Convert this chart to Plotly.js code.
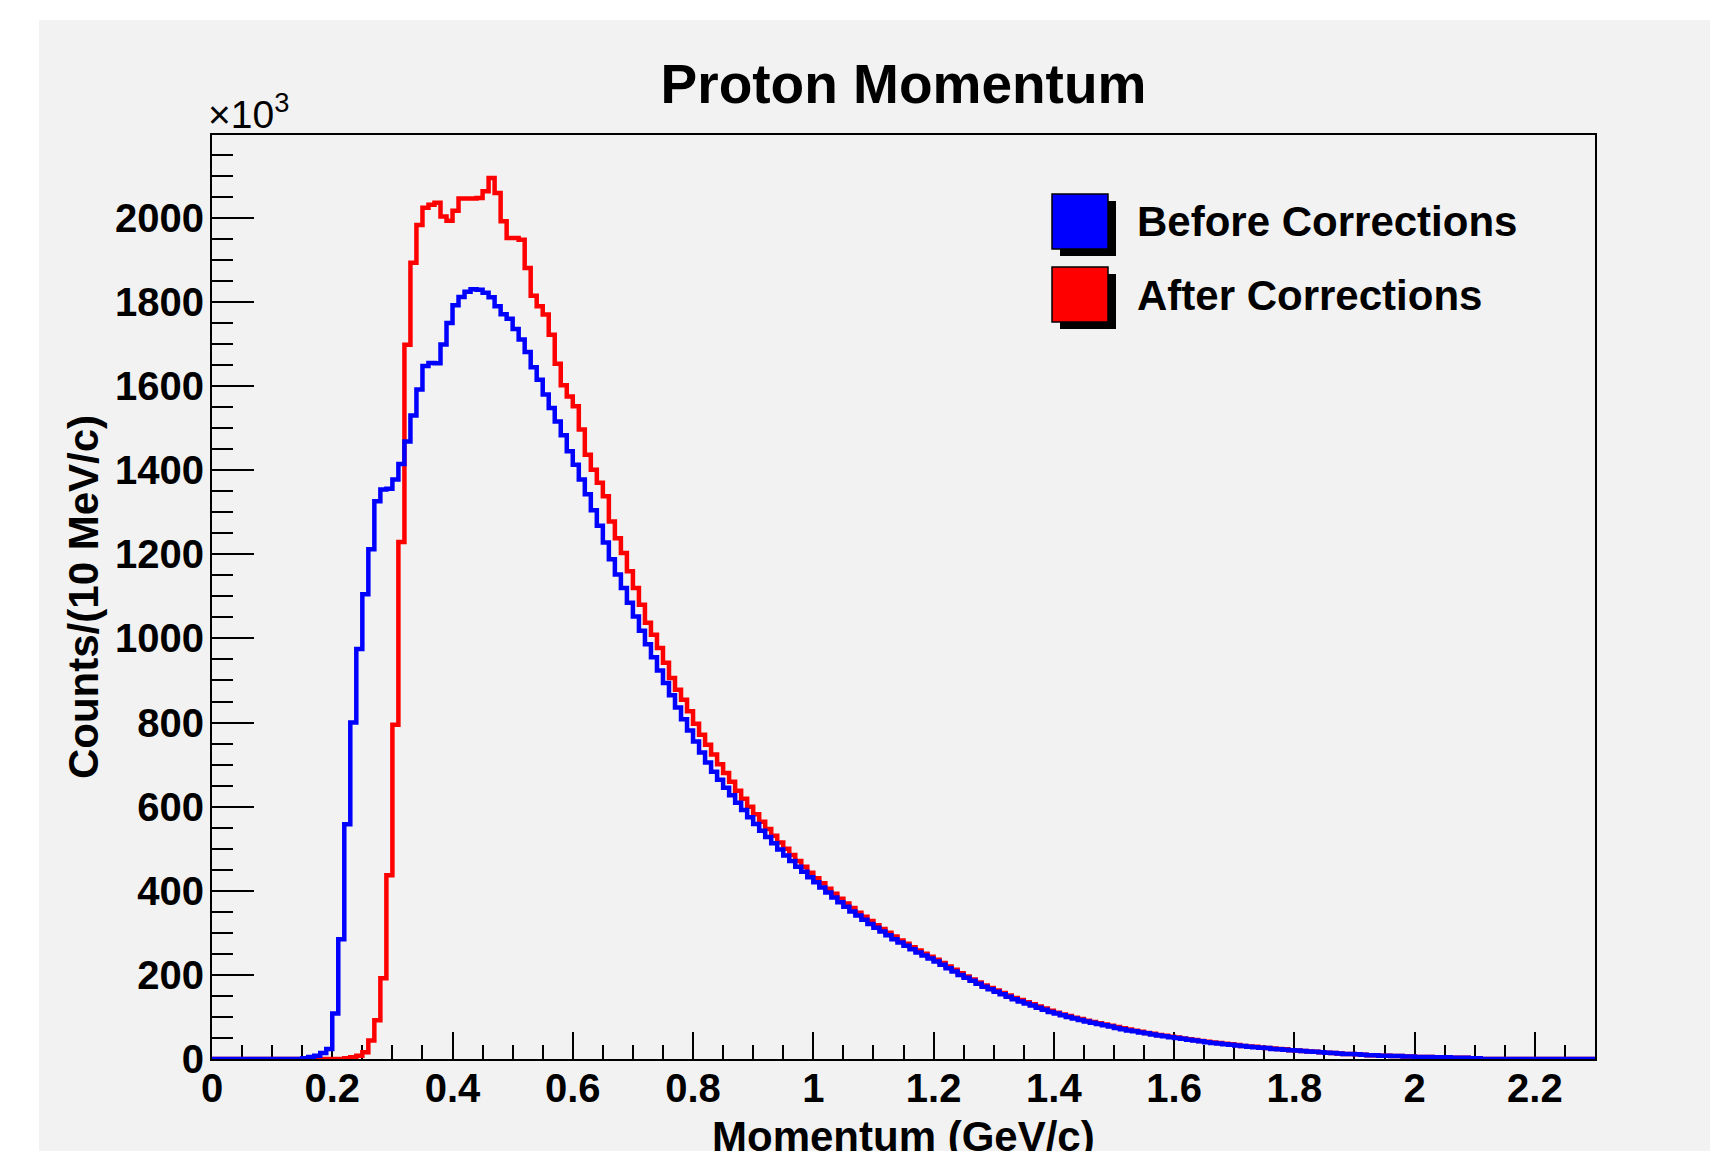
<!DOCTYPE html>
<html>
<head>
<meta charset="utf-8">
<script src="https://cdn.plot.ly/plotly-3.0.1.min.js"></script>
<style>
html,body{margin:0;padding:0;background:#ffffff;}
#chart{width:1710px;height:1151px;}
</style>
</head>
<body>
<div id="chart"></div>
<script>
// ---------------- data ----------------
const chartTitle = 'Proton Momentum';
const xAxisTitle = 'Momentum (GeV/c)';
const yAxisTitle = 'Counts/(10 MeV/c)';
const yScaleLabel = '\u00d710<sup>3</sup>';
const seriesNames = ['Before Corrections', 'After Corrections'];
const seriesColors = ['#0000ff', '#ff0000'];

// histogram binning (GeV/c)
const binLowEdge = 0;
const binWidth = 0.01;
const xMax = 2.3;

// counts per 10 MeV/c bin, in thousands (bins 0.00 .. 2.29)
const beforeCounts = [
  0,0,0,0,0,0,0,0,0,0,0,0,0,0,0,
  2,5,8,14,24,
  108,285,558,800,975,1105,1212,1326,1354,1356,
  1378,1415,1468,1530,1592,1648,1655,1654,1699,1750,
  1792,1812,1824,1830,1829,1822,1811,1790,1771,1760,
  1736,1711,1681,1645,1615,1580,1548,1516,1483,1445,
  1413,1378,1343,1305,1268,1228,1188,1152,1120,1085,
  1052,1018,986,955,924,894,865,836,808,781,
  755,729,705,683,664,645,627,609,592,575,
  559,543,528,513,498,484,471,457,445,432,
  420,
  408,396,384,373,362,351,341,331,321,312,303,294,285,277,269,261,253,246,239,232,
  224,216,208,200,193,186,179,172,166,160,154,148,142,137,132,127,122,117,112,108,
  104,100,96,93,89,86,83,80,77,74,71,68,66,63,61,58,56,54,52,50,
  48,46,44,42,40,38,37,35,34,32,31,29,28,27,26,24,23,22,21,20,
  19,18,17,16,15,14,13,12,12,11,10,9,9,8,8,7,7,6,6,5,
  5,5,4,4,4,3,3,3,2,2,
  0,0,0,0,0,0,0,0,0,0,0,0,0,0,0,0,0,0,0
];
const afterCounts = [
  0,0,0,0,0,0,0,0,0,0,0,0,0,0,0,0,0,0,0,0,0,0,
  2,4,8,16,44,92,192,437,
  795,1229,1698,1893,1983,2024,2031,2036,2003,1993,
  2017,2046,2046,2046,2047,2063,2095,2059,1992,1952,
  1952,1948,1881,1815,1790,1770,1722,1653,1602,1575,
  1552,1497,1437,1401,1370,1338,1278,1238,1203,1160,
  1120,1080,1037,1009,977,942,906,878,854,827,
  797,771,747,724,701,680,659,638,619,600,
  582,564,547,531,515,500,485,471,457,443,
  430,
  418,405,393,381,370,359,348,338,328,318,309,300,291,282,274,266,258,250,243,236,
  228,220,212,204,196,189,182,175,169,163,157,151,145,140,135,130,125,120,115,110,
  106,102,98,95,91,88,85,82,79,76,73,70,67,65,62,60,57,55,53,51,
  49,47,45,43,41,39,38,36,35,33,31,30,29,27,26,25,24,23,21,20,
  19,18,17,16,15,14,13,12,12,11,10,9,9,8,8,7,7,6,6,5,
  5,5,4,4,4,3,3,3,1,1,
  0,0,0,0,0,0,0,0,0,0,0,0,0,0,0,0,0,0,0
];

// ---------------- helpers ----------------
function stepTrace(counts, name, color) {
  const x = counts.map((_, i) => +(binLowEdge + i * binWidth).toFixed(4));
  x.push(binLowEdge + counts.length * binWidth);
  const y = counts.slice();
  y.push(counts[counts.length - 1]);
  return {
    type: 'scatter', mode: 'lines', name: name, x: x, y: y,
    line: {shape: 'hv', color: color, width: 4.5},
    showlegend: false, hoverinfo: 'x+y'
  };
}

const FONT = 'Liberation Sans, Arial, Helvetica, sans-serif';
const W = 1710, H = 1151;
const L = 212, R = 1595, T = 135, B = 1059;
const pw = R - L, ph = B - T;
const px = v => (v - L) / pw;
const py = v => (B - v) / ph;

const traces = [
  stepTrace(afterCounts, seriesNames[1], seriesColors[1]),
  stepTrace(beforeCounts, seriesNames[0], seriesColors[0])
];

// legend (ROOT-style boxes with shadow)
const legendRows = [
  {name: seriesNames[0], color: seriesColors[0], top: 194},
  {name: seriesNames[1], color: seriesColors[1], top: 267}
];
const shapes = [
  {type: 'rect', xref: 'paper', yref: 'paper', x0: px(39), x1: px(W), y0: py(H), y1: py(20),
   fillcolor: '#f2f2f2', line: {width: 0}, layer: 'below'}
];
const annotations = [
  {xref: 'paper', yref: 'paper', x: px(206), y: py(111), xanchor: 'left', yanchor: 'middle',
   text: yScaleLabel, showarrow: false, font: {family: FONT, size: 39, color: '#000'}},
  // x-axis title, placed like the ROOT original (partly below the canvas edge)
  {xref: 'paper', yref: 'paper', x: 0.5, y: py(1136), xanchor: 'center', yanchor: 'middle',
   text: xAxisTitle, showarrow: false,
   font: {family: FONT, size: 42, weight: 700, color: '#000'}}
];
legendRows.forEach(r => {
  shapes.push({type: 'rect', xref: 'paper', yref: 'paper', x0: px(1060), x1: px(1116),
    y0: py(r.top + 62), y1: py(r.top + 7), fillcolor: '#000', line: {width: 0}});
  shapes.push({type: 'rect', xref: 'paper', yref: 'paper', x0: px(1052), x1: px(1108),
    y0: py(r.top + 55), y1: py(r.top), fillcolor: r.color, line: {color: '#000', width: 1.5}});
  annotations.push({xref: 'paper', yref: 'paper', x: px(1135), y: py(r.top + 28),
    xanchor: 'left', yanchor: 'middle', text: r.name, showarrow: false,
    font: {family: FONT, size: 42, weight: 700, color: '#000'}});
});

const axisCommon = {
  ticks: 'inside', tickwidth: 2, tickcolor: '#000',
  showline: true, linewidth: 2, linecolor: '#000', mirror: true,
  showgrid: false, zeroline: false, automargin: false, fixedrange: true,
  tickfont: {family: FONT, size: 40, weight: 700, color: '#000'},
  layer: 'below traces'
};

const layout = {
  width: W, height: H,
  margin: {l: L, r: W - R, t: T, b: H - B, pad: 0},
  paper_bgcolor: '#ffffff',
  plot_bgcolor: '#f2f2f2',
  showlegend: false,
  title: {text: chartTitle, x: 0.5, xref: 'paper', xanchor: 'center',
          y: 1 - 84 / H, yref: 'container', yanchor: 'middle',
          font: {family: FONT, size: 55, weight: 700, color: '#000'}},
  xaxis: Object.assign({}, axisCommon, {
    range: [binLowEdge, xMax], tick0: 0, dtick: 0.2, ticklen: 27,
    ticklabelstandoff: -7,
    minor: {dtick: 0.05, ticks: 'inside', ticklen: 14, tickwidth: 2, tickcolor: '#000', showgrid: false}
  }),
  yaxis: Object.assign({}, axisCommon, {
    range: [0, 2197], tick0: 0, dtick: 200, ticklen: 42,
    ticklabelstandoff: -2,
    minor: {dtick: 50, ticks: 'inside', ticklen: 21, tickwidth: 2, tickcolor: '#000', showgrid: false},
    title: {text: yAxisTitle, standoff: 3,
            font: {family: FONT, size: 42, weight: 700, color: '#000'}}
  }),
  shapes: shapes,
  annotations: annotations
};

Plotly.newPlot('chart', traces, layout, {displayModeBar: false, responsive: false});
</script>
</body>
</html>
